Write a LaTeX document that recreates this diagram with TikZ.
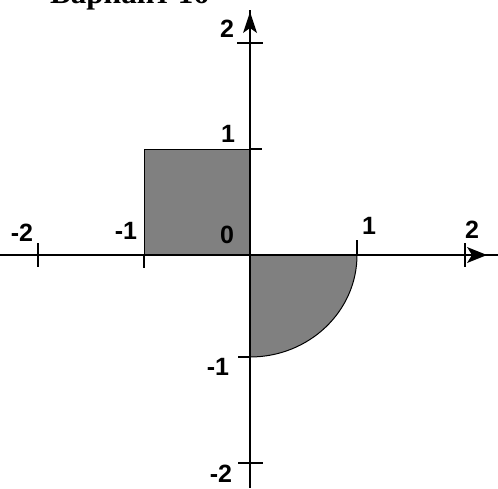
\documentclass[tikz,border=0pt]{standalone}
\usepackage{fontspec}
\setmainfont{Liberation Serif}
\newfontfamily\lblfont{Liberation Sans}
\begin{document}
\begin{tikzpicture}[x=1pt,y=-1pt,
  lbl/.style={font=\lblfont\bfseries\fontsize{25}{25}\selectfont, inner sep=0pt},
  axis/.style={line width=1.4pt},
  tick/.style={line width=1.2pt},
  region/.style={fill=black!50, draw=black, line width=1pt},
  tip/.style={fill=black, draw=none}]
\useasboundingbox (0,0) rectangle (498,488);
\clip (0,0) rectangle (498,488);
% title (cut off at top)
\node[font=\bfseries\fontsize{31}{31}\selectfont, anchor=base west, inner sep=0pt] (title) at (50,3) {Вариант 16};
% shaded regions
\path[region] (144,149) rectangle (250,255);
\path[region] (250,255) -- (357,255) arc[start angle=0, end angle=90, x radius=107, y radius=102] -- cycle;
% axes
\coordinate (xl) at (0,255);
\coordinate (xr) at (498,255);
\coordinate (yt) at (250,10);
\coordinate (yb) at (250,488);
\draw[axis] (xl) -- (xr);
\draw[axis] (yt) -- (yb);
% arrowheads
\path[tip] (487,255) -- (467,247) -- (472,255) -- (467,263) -- cycle;
\path[tip] (250,12) -- (243,33) -- (250,28) -- (257,33) -- cycle;
% x ticks
\draw[tick] (38,243) -- (38,267);
\draw[tick] (144,255) -- (144,268);
\draw[tick] (357,240) -- (357,255);
\draw[tick] (465,243) -- (465,267);
% y ticks
\draw[tick] (237,43) -- (263,43);
\draw[tick] (250,149) -- (262,149);
\draw[tick] (238,357) -- (250,357);
\draw[tick] (238,463) -- (263,463);
% labels
\node[lbl] (ly2) at (227,29) {2};
\node[lbl] (ly1) at (228,134) {1};
\node[lbl] (l0) at (227,235) {0};
\node[lbl] (lxm1) at (126,231) {-1};
\node[lbl] (lxm2) at (22,233) {-2};
\node[lbl] (lx1) at (369,226) {1};
\node[lbl] (lx2) at (472,230) {2};
\node[lbl] (lym1) at (218,367) {-1};
\node[lbl] (lym2) at (221,474) {-2};
\end{tikzpicture}
\end{document}
